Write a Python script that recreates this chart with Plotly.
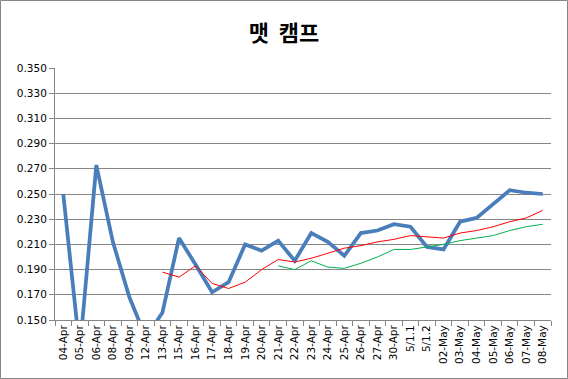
import plotly.graph_objects as go

categories = ["04-Apr", "05-Apr", "06-Apr", "08-Apr", "09-Apr", "12-Apr", "13-Apr", "15-Apr",
              "16-Apr", "17-Apr", "18-Apr", "19-Apr", "20-Apr", "21-Apr", "22-Apr", "23-Apr",
              "24-Apr", "25-Apr", "26-Apr", "27-Apr", "30-Apr", "5/1.1", "5/1.2", "02-May",
              "03-May", "04-May", "05-May", "06-May", "07-May", "08-May"]

blue_values = [0.250, 0.126, 0.273, 0.212, 0.168, 0.136, 0.156, 0.215,
               0.194, 0.172, 0.180, 0.210, 0.205, 0.213, 0.197, 0.219,
               0.212, 0.201, 0.219, 0.221, 0.226, 0.224, 0.208, 0.206,
               0.228, 0.231, 0.242, 0.253, 0.251, 0.250]

red_values = [None, None, None, None, None, None, 0.188, 0.184,
              0.193, 0.179, 0.175, 0.180, 0.190, 0.198, 0.196, 0.199,
              0.203, 0.207, 0.209, 0.212, 0.214, 0.217, 0.216, 0.215,
              0.219, 0.221, 0.224, 0.228, 0.231, 0.237]

green_values = [None, None, None, None, None, None, None, None,
                None, None, None, None, None, 0.193, 0.190, 0.197,
                0.192, 0.191, 0.195, 0.200, 0.206, 0.206, 0.208, 0.210,
                0.213, 0.215, 0.217, 0.221, 0.224, 0.226]

y_ticks = [0.150, 0.170, 0.190, 0.210, 0.230, 0.250, 0.270, 0.290, 0.310, 0.330, 0.350]
y_tick_labels = [f"{v:.3f}" for v in y_ticks]

title_text = "맷&nbsp;&nbsp;캠프"

fig = go.Figure()
fig.add_trace(go.Scatter(x=categories, y=blue_values, mode="lines",
                         line=dict(color="#4A7EBB", width=3.75), showlegend=False))
fig.add_trace(go.Scatter(x=categories, y=red_values, mode="lines",
                         line=dict(color="#FF0000", width=1), showlegend=False))
fig.add_trace(go.Scatter(x=categories, y=green_values, mode="lines",
                         line=dict(color="#00B050", width=1), showlegend=False))

L, R, T, B = 55, 17, 68, 59
W, H = 568, 379
pw, ph = W - L - R, H - T - B

fig.add_shape(type="rect", xref="paper", yref="paper",
              x0=(0.5 - L) / pw, x1=(W - 0.5 - L) / pw,
              y0=(H - B - (H - 0.5)) / ph, y1=(H - B - 0.5) / ph,
              line=dict(color="#868686", width=1), fillcolor="rgba(0,0,0,0)", layer="below")

fig.update_layout(
    width=W, height=H,
    margin=dict(l=L, r=R, t=T, b=B),
    paper_bgcolor="white", plot_bgcolor="white",
    title=dict(text=title_text, x=0.5, xanchor="center", y=1 - 33 / H, yanchor="middle",
               yref="container", xref="container",
               font=dict(family="Noto Sans CJK KR", size=22, color="black", weight="bold")),
    font=dict(family="DejaVu Sans", size=10.5, color="black"),
    xaxis=dict(type="category", categoryorder="array", categoryarray=categories,
               tickangle=-90, ticks="outside", tickson="boundaries", ticklen=5,
               tickcolor="#868686", showline=True, linecolor="#868686", linewidth=1,
               showgrid=False, tickfont=dict(size=10.5), range=[-0.5, len(categories) - 0.5]),
    yaxis=dict(range=[0.150, 0.350], tickvals=y_ticks, ticktext=y_tick_labels,
               ticks="outside", ticklen=5, tickcolor="#868686",
               showline=True, linecolor="#868686", linewidth=1,
               showgrid=True, gridcolor="#868686", gridwidth=1, zeroline=False,
               tickfont=dict(size=10.5)),
)

fig.write_html("out.html", config={"displayModeBar": False, "staticPlot": True},
               post_script="document.body.style.margin='0';document.body.style.overflow='hidden';")
